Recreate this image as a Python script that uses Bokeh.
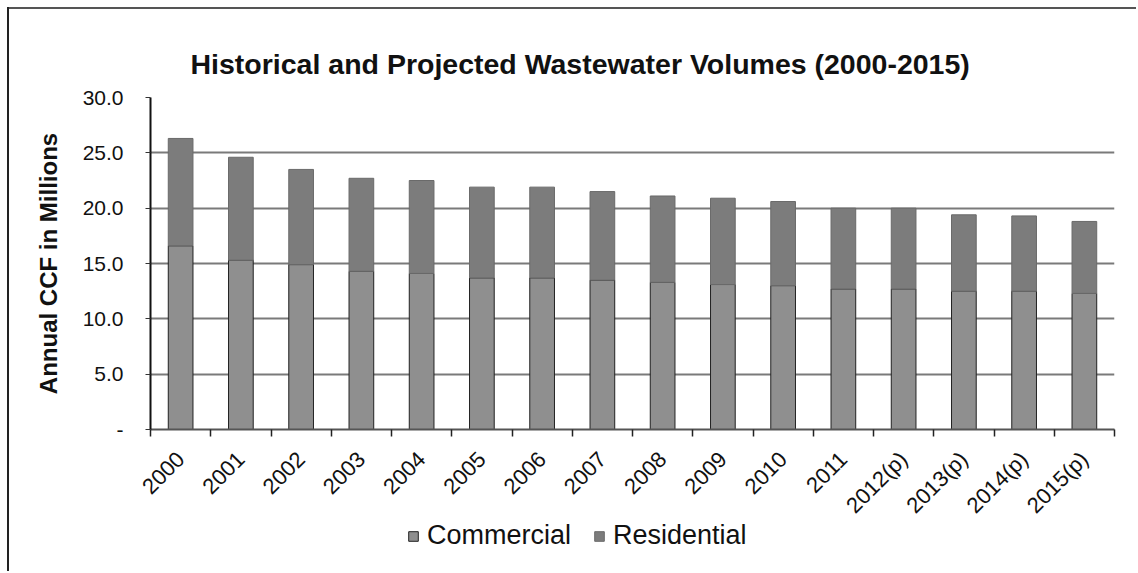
from bokeh.plotting import figure
from bokeh.layouts import column
from bokeh.models import (ColumnDataSource, Range1d, FixedTicker, Legend,
                          LegendItem, NumeralTickFormatter)
from bokeh.embed import file_html
from bokeh.resources import INLINE

years = ["2000", "2001", "2002", "2003", "2004", "2005", "2006", "2007",
         "2008", "2009", "2010", "2011", "2012(p)", "2013(p)", "2014(p)", "2015(p)"]
commercial = [16.6, 15.3, 14.9, 14.3, 14.1, 13.7, 13.7, 13.5,
              13.3, 13.1, 13.0, 12.7, 12.7, 12.5, 12.5, 12.3]
residential = [9.7, 9.3, 8.6, 8.4, 8.4, 8.2, 8.2, 8.0,
               7.8, 7.8, 7.6, 7.3, 7.3, 6.9, 6.8, 6.5]
y_ticks = [0, 5, 10, 15, 20, 25, 30]

FONT = "Liberation Sans"
COLORS = ["#8f8f8f", "#7c7c7c"]
EDGES = ["#222222", "#6a6a6a"]

xpos = [i + 0.5 for i in range(len(years))]
src = ColumnDataSource(dict(x=xpos, years=years, Commercial=commercial, Residential=residential))

p = figure(frame_width=964, frame_height=332, output_backend="svg", toolbar_location=None,
           x_range=Range1d(0, len(years)), y_range=Range1d(0, 30),
           min_border_left=150, min_border_right=22, min_border_top=97, min_border_bottom=142)
p.border_fill_color = None
p.styles = {"background": "linear-gradient(#222,#222) 7px 7px / 2px calc(100% - 7px) no-repeat, "
                          "linear-gradient(#555,#555) 7px 7px / calc(100% - 7px) 2px no-repeat, white"}
p.outline_line_color = None
p.background_fill_color = "white"

p.title.text = "Historical and Projected Wastewater Volumes (2000-2015)"
p.title.align = "left"
p.title.offset = 40
p.title.standoff = 36
p.title.text_font = FONT
p.title.text_font_style = "bold"
p.title.text_font_size = "28.5px"
p.title.text_color = "#111111"

rs = p.vbar_stack(["Commercial", "Residential"], x="x", width=0.41, source=src,
                  fill_color=COLORS, line_color=EDGES, line_width=1)

# x axis
xa = p.xaxis[0]
xa.ticker = FixedTicker(ticks=xpos, minor_ticks=list(range(len(years) + 1)))
xa.major_label_overrides = {x: y for x, y in zip(xpos, years)}
xa.major_tick_line_color = None
xa.minor_tick_in = 0
xa.minor_tick_out = 7
xa.minor_tick_line_color = "#222222"
xa.minor_tick_line_width = 1.5
xa.axis_line_color = "#555555"
xa.axis_line_width = 2
xa.major_label_orientation = 0.7854
xa.major_label_standoff = 19
xa.major_label_text_font = FONT
xa.major_label_text_font_size = "22px"
xa.major_label_text_color = "#111111"

# y axis
ya = p.yaxis[0]
ya.ticker = FixedTicker(ticks=y_ticks)
ya.formatter = NumeralTickFormatter(format="0.0")
ya.major_label_overrides = {0: "-"}
ya.major_tick_in = 0
ya.major_tick_out = 5
ya.major_tick_line_color = "#333333"
ya.minor_tick_line_color = None
ya.axis_line_color = "#111111"
ya.axis_line_width = 2
ya.major_label_standoff = 22
ya.major_label_text_font = FONT
ya.major_label_text_font_size = "21px"
ya.major_label_text_color = "#111111"
ya.axis_label = "Annual CCF in Millions"
ya.axis_label_text_font = FONT
ya.axis_label_text_font_style = "bold"
ya.axis_label_text_font_size = "24px"
ya.axis_label_standoff = 18
ya.axis_label_text_color = "#111111"

p.xgrid.visible = False
p.ygrid.grid_line_color = "#7a7a7a"
p.ygrid.grid_line_width = 2

# legend strip, overlaid below the axis labels
p2 = figure(width=1136, height=50, output_backend="svg", toolbar_location=None,
            x_axis_location=None, y_axis_location=None,
            x_range=Range1d(0, len(years)), y_range=Range1d(100, 130),
            min_border_left=0, min_border_right=0, min_border_top=0, min_border_bottom=0)
p2.outline_line_color = None
p2.background_fill_color = None
p2.border_fill_color = None
for g in p2.grid:
    g.visible = False
p2.styles = {"position": "absolute", "left": "0px", "top": "505px"}
rs2 = p2.vbar_stack(["Commercial", "Residential"], x="x", width=0.41, source=src,
                    fill_color=COLORS, line_color=EDGES, line_width=1)

legend = Legend(items=[LegendItem(label="Commercial", renderers=[rs2[0]]),
                       LegendItem(label="Residential", renderers=[rs2[1]])],
                location=(257, 4), orientation="horizontal",
                label_text_font=FONT, label_text_font_size="27px", label_text_color="#111111",
                glyph_width=12, glyph_height=12, spacing=22, padding=0, margin=0,
                label_standoff=8, border_line_color=None, background_fill_alpha=0)
p2.add_layout(legend)

layout = column(p, p2)
open("out.html", "w").write(file_html(layout, INLINE))
